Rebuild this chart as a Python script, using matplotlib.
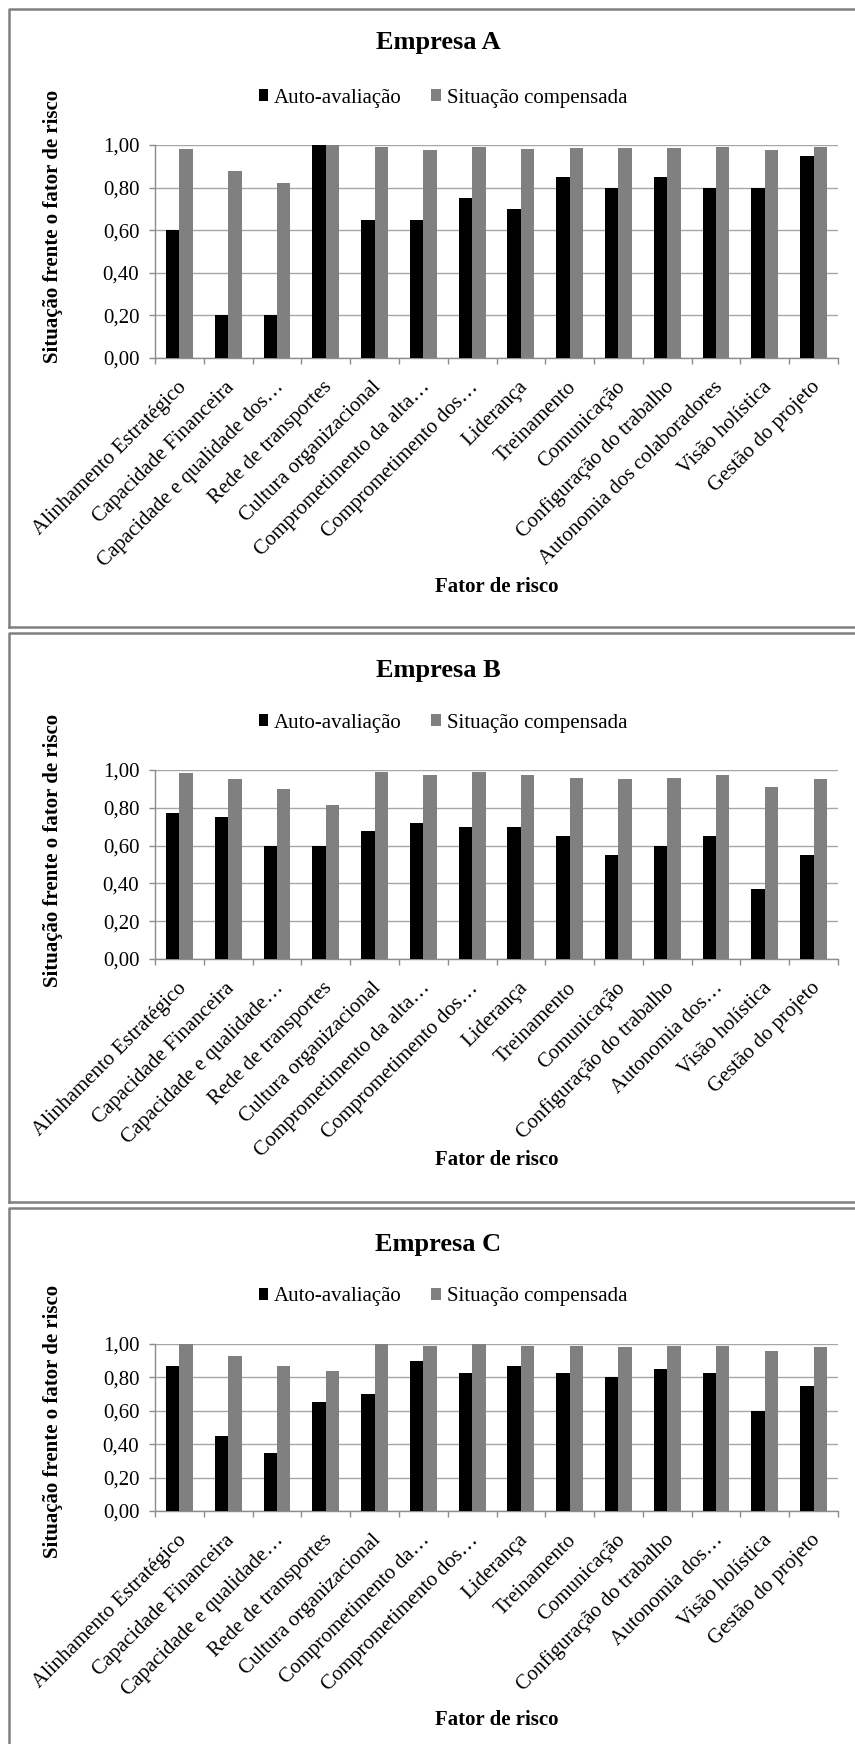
import matplotlib
matplotlib.use("Agg")
import matplotlib.pyplot as plt
from matplotlib.lines import Line2D
from matplotlib.ticker import FixedLocator, FuncFormatter
from matplotlib.transforms import ScaledTranslation

plt.rcParams['font.family'] = ['Liberation Serif', 'DejaVu Serif']

# ---- data -------------------------------------------------------------
labels_a = ["Alinhamento Estratégico", "Capacidade Financeira",
            "Capacidade e qualidade dos…", "Rede de transportes",
            "Cultura organizacional", "Comprometimento da alta…",
            "Comprometimento dos…", "Liderança", "Treinamento",
            "Comunicação", "Configuração do trabalho",
            "Autonomia dos colaboradores", "Visão holística",
            "Gestão do projeto"]
labels_b = ["Alinhamento Estratégico", "Capacidade Financeira",
            "Capacidade e qualidade…", "Rede de transportes",
            "Cultura organizacional", "Comprometimento da alta…",
            "Comprometimento dos…", "Liderança", "Treinamento",
            "Comunicação", "Configuração do trabalho",
            "Autonomia dos…", "Visão holística", "Gestão do projeto"]
labels_c = ["Alinhamento Estratégico", "Capacidade Financeira",
            "Capacidade e qualidade…", "Rede de transportes",
            "Cultura organizacional", "Comprometimento da…",
            "Comprometimento dos…", "Liderança", "Treinamento",
            "Comunicação", "Configuração do trabalho",
            "Autonomia dos…", "Visão holística", "Gestão do projeto"]

auto_a = [0.60, 0.20, 0.20, 1.00, 0.65, 0.65, 0.75, 0.70, 0.85, 0.80, 0.85, 0.80, 0.80, 0.95]
comp_a = [0.98, 0.88, 0.82, 1.00, 0.99, 0.975, 0.99, 0.98, 0.985, 0.985, 0.985, 0.99, 0.975, 0.99]

auto_b = [0.775, 0.75, 0.60, 0.60, 0.675, 0.72, 0.70, 0.70, 0.65, 0.55, 0.60, 0.65, 0.37, 0.55]
comp_b = [0.982, 0.955, 0.90, 0.815, 0.99, 0.975, 0.99, 0.975, 0.96, 0.95, 0.96, 0.975, 0.91, 0.95]

auto_c = [0.87, 0.45, 0.35, 0.65, 0.70, 0.90, 0.825, 0.87, 0.825, 0.80, 0.85, 0.825, 0.60, 0.75]
comp_c = [1.00, 0.93, 0.87, 0.84, 1.00, 0.99, 1.00, 0.99, 0.99, 0.98, 0.99, 0.99, 0.96, 0.98]

titles = ["Empresa A", "Empresa B", "Empresa C"]
series_names = ["Auto-avaliação", "Situação compensada"]
y_ticks = [0.0, 0.2, 0.4, 0.6, 0.8, 1.0]

# ---- layout (pixel units, measured from the top-left corner) -----------
W, H = 855, 1744
fig = plt.figure(figsize=(W / 100, H / 100), dpi=100)

panels = [
    dict(frame=(9, 627), title=43, legend=98, plot=(145, 358), ylab=226, xlab=587),
    dict(frame=(633, 1202), title=670, legend=723, plot=(770, 959), ylab=850, xlab=1160),
    dict(frame=(1208, None), title=1245, legend=1297, plot=(1344, 1511), ylab=1421, xlab=1720),
]
plot_left, plot_right = 155, 838
frame_left = 9

def fx(x):
    return x / W

def fy(y):
    return 1 - y / H

grid_col = "#a6a6a6"
axis_col = "#8c8c8c"
frame_col = "#808080"
bar_w = 0.275

data = [(labels_a, auto_a, comp_a), (labels_b, auto_b, comp_b), (labels_c, auto_c, comp_c)]

def frame_line(xs, ys):
    fig.add_artist(Line2D([fx(x) for x in xs], [fy(y) for y in ys],
                          transform=fig.transFigure, color=frame_col,
                          linewidth=1.8, solid_capstyle="projecting"))

for p, title, (labels, auto, comp) in zip(panels, titles, data):
    # panel frame (open to the right, where the chart runs past the page)
    ft, fb = p["frame"]
    bottom = fb if fb is not None else H + 10
    frame_line([W + 10, frame_left, frame_left], [ft, ft, bottom])
    if fb is not None:
        frame_line([frame_left, W + 10], [fb, fb])

    pt, pb = p["plot"]
    ax = fig.add_axes([fx(plot_left), fy(pb), fx(plot_right - plot_left), (pb - pt) / H])
    n = len(labels)
    xs = list(range(n))
    b1 = ax.bar([x - bar_w / 2 for x in xs], auto, width=bar_w, color="#000000",
                label=series_names[0], zorder=3)
    b2 = ax.bar([x + bar_w / 2 for x in xs], comp, width=bar_w, color="#808080",
                label=series_names[1], zorder=3)

    ax.set_xlim(-0.5, n - 0.5)
    ax.set_ylim(0, 1)
    ax.yaxis.set_major_locator(FixedLocator(y_ticks))
    ax.yaxis.set_major_formatter(FuncFormatter(lambda v, _: f"{v:.2f}".replace(".", ",")))
    ax.grid(axis="y", color=grid_col, linewidth=1.0, zorder=0)
    ax.set_axisbelow(True)

    for s in ("top", "right"):
        ax.spines[s].set_visible(False)
    for s in ("left", "bottom"):
        ax.spines[s].set_color(axis_col)
        ax.spines[s].set_linewidth(1.0)

    ax.tick_params(axis="y", length=4.3, width=1.0, color=axis_col, pad=7, labelsize=15)
    ax.set_xticks(xs)
    ax.set_xticklabels(labels, rotation=45, ha="right", va="center",
                       rotation_mode="anchor", fontsize=15)
    ax.tick_params(axis="x", which="major", length=0, pad=19)
    shift = ScaledTranslation(4 / 100, 0, fig.dpi_scale_trans)
    for lbl in ax.get_xticklabels():
        lbl.set_transform(lbl.get_transform() + shift)
    ax.set_xticks([x + 0.5 for x in [-1] + xs], minor=True)
    ax.tick_params(axis="x", which="minor", length=4.3, width=1.0, color=axis_col)

    fig.text(fx(438), fy(p["title"]), title, ha="center", va="center",
             fontsize=19, fontweight="bold")
    fig.text(fx(53), fy(p["ylab"]), "Situação frente o fator de risco", rotation=90,
             ha="center", va="center", fontsize=15, fontweight="bold")
    fig.text(fx(497), fy(p["xlab"]), "Fator de risco", ha="center", va="center",
             fontsize=15, fontweight="bold")

    fig.legend(handles=[b1, b2], loc="center", ncol=2, frameon=False,
               bbox_to_anchor=(fx(443), fy(p["legend"])), bbox_transform=fig.transFigure,
               fontsize=15, handlelength=0.45, handleheight=0.45,
               handletextpad=0.3, columnspacing=1.4, borderpad=0, borderaxespad=0)

fig.savefig("out.png", dpi=100, facecolor="white")
